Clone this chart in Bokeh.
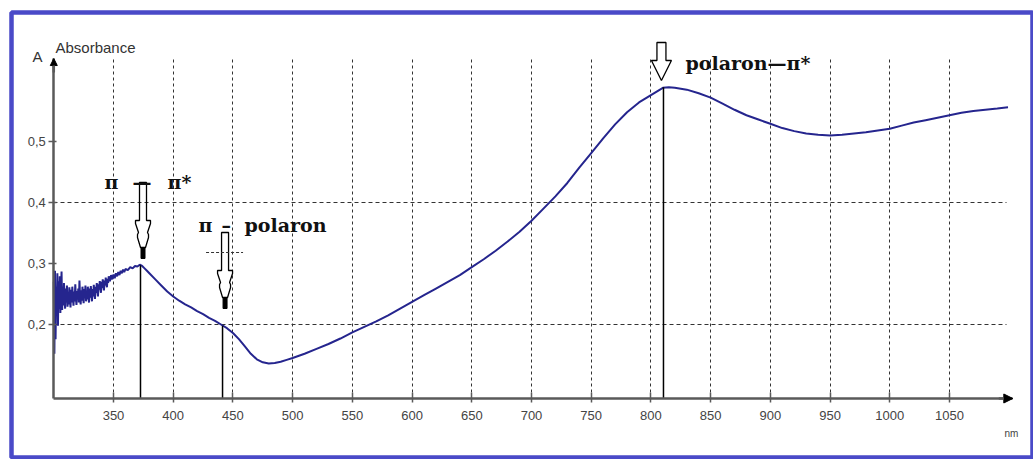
from bokeh.plotting import figure
from bokeh.models import Range1d, FixedTicker, Label, Arrow, NormalHead, Grid
from bokeh.core.properties import value
from bokeh.embed import file_html
from bokeh.resources import INLINE

# ---------------- data ----------------
wavelength = [300.0, 300.5, 301.0, 301.5, 302.0, 302.5, 303.0, 303.5, 304.0, 304.5,
              305.0, 305.5, 306.0, 306.5, 307.0, 307.5, 308.0, 308.5, 309.0, 309.5,
              310.0, 310.5, 311.0, 311.5, 312.0, 312.5, 313.0, 313.5, 314.0, 314.5,
              315.0, 315.5, 316.0, 316.5, 317.0, 317.5, 318.0, 318.5, 319.0, 319.5,
              320.0, 320.5, 321.0, 321.5, 322.0, 322.5, 323.0, 323.5, 324.0, 324.5,
              325.0, 325.5, 326.0, 326.5, 327.0, 327.5, 328.0, 328.5, 329.0, 329.5,
              330.0, 330.5, 331.0, 331.5, 332.0, 332.5, 333.0, 333.5, 334.0, 334.5,
              335.0, 335.5, 336.0, 336.5, 337.0, 337.5, 338.0, 338.5, 339.0, 339.5,
              340.0, 340.5, 341.0, 341.5, 342.0, 342.5, 343.0, 343.5, 344.0, 344.5,
              345.0, 345.5, 346.0, 347.0, 348.0, 349.0, 350.0, 351.0, 352.0, 353.0,
              354.0, 355.0, 356.0, 357.0, 358.0, 359.0, 360.0, 362.0, 364.0, 366.0,
              368.0, 370.0, 372.0, 374.0, 376.0, 378.0,
              380, 385, 390, 395, 400, 405, 410, 415, 420, 425,
              430, 435, 440, 445, 450, 455, 460, 465, 470, 475,
              480, 485, 490, 495, 500, 510, 520, 530, 540, 550,
              560, 570, 580, 590, 600, 610, 620, 630, 640, 650,
              660, 670, 680, 690, 700, 710, 720, 730, 740, 750,
              760, 770, 780, 790, 800, 810, 815, 820, 830, 840,
              850, 860, 870, 880, 890, 900, 910, 920, 930, 940,
              950, 960, 970, 980, 990, 1000, 1010, 1020, 1030, 1040,
              1050, 1060, 1070, 1080, 1090, 1099]
absorbance = [0.270, 0.152, 0.288, 0.176, 0.262, 0.214, 0.284, 0.198, 0.271, 0.226,
              0.279, 0.219, 0.252, 0.287, 0.224, 0.262, 0.231, 0.268, 0.241, 0.226,
              0.259, 0.236, 0.264, 0.229, 0.248, 0.233, 0.261, 0.242, 0.228, 0.257,
              0.236, 0.262, 0.245, 0.231, 0.254, 0.238, 0.266, 0.243, 0.232, 0.255,
              0.241, 0.259, 0.236, 0.272, 0.244, 0.233, 0.256, 0.239, 0.262, 0.246,
              0.235, 0.258, 0.243, 0.264, 0.238, 0.252, 0.241, 0.262, 0.247, 0.236,
              0.259, 0.244, 0.263, 0.249, 0.238, 0.258, 0.246, 0.265, 0.251, 0.242,
              0.262, 0.252, 0.268, 0.255, 0.246, 0.266, 0.257, 0.271, 0.259, 0.252,
              0.270, 0.260, 0.274, 0.262, 0.256, 0.272, 0.264, 0.277, 0.266, 0.261,
              0.275, 0.268, 0.279, 0.271, 0.281, 0.274, 0.282, 0.276, 0.284, 0.279,
              0.286, 0.281, 0.288, 0.284, 0.290, 0.286, 0.291, 0.289, 0.294, 0.292,
              0.296, 0.295, 0.298, 0.296, 0.292, 0.288,
              0.284, 0.274, 0.264, 0.254, 0.246, 0.239, 0.233, 0.228, 0.222, 0.217,
              0.211, 0.206, 0.200, 0.194, 0.186, 0.176, 0.164, 0.152, 0.143, 0.138,
              0.136, 0.137, 0.139, 0.142, 0.145, 0.152, 0.160, 0.168, 0.177, 0.187,
              0.196, 0.205, 0.215, 0.226, 0.237, 0.248, 0.259, 0.270, 0.281, 0.294,
              0.307, 0.321, 0.336, 0.352, 0.370, 0.390, 0.410, 0.432, 0.457, 0.481,
              0.505, 0.528, 0.548, 0.564, 0.576, 0.588, 0.589, 0.588, 0.585, 0.579,
              0.572, 0.562, 0.552, 0.543, 0.536, 0.529, 0.522, 0.517, 0.513, 0.511,
              0.510, 0.511, 0.513, 0.515, 0.518, 0.521, 0.526, 0.531, 0.535, 0.539,
              0.543, 0.547, 0.550, 0.552, 0.554, 0.556]

x_ticks = [350, 400, 450, 500, 550, 600, 650, 700, 750, 800, 850, 900, 950, 1000, 1050]
x_tick_labels = ["350", "400", "450", "500", "550", "600", "650", "700", "750",
                 "800", "850", "900", "950", "1000", "1050"]
y_ticks = [0.2, 0.3, 0.4, 0.5]
y_tick_labels = ["0,2", "0,3", "0,4", "0,5"]
y_grid_values = [0.2, 0.4]

# annotated transitions: drop line position (nm) and curve value
mark_x = [372.6, 441.3, 810.5]
mark_top = [0.297, 0.198, 0.589]

# hollow arrows: centre (nm), top of arrow (absorbance)
stepped_arrow_x = [374.7, 443.4]
stepped_arrow_top = [0.4328, 0.3508]
simple_arrow_x = [808.8]
simple_arrow_top = [0.6623]

# bold serif labels: (x nm, baseline absorbance, text)
label_x = [342.5, 365.9, 395.2, 421.2, 440.5, 459.7, 829.0]
label_y = [0.4328, 0.4328, 0.4328, 0.3639, 0.3639, 0.3639, 0.6279]
label_text = ["π", "—", "π*", "π", "–", "polaron", "polaron—π*"]

# ---------------- geometry ----------------
X_AXIS_START, X_AXIS_END = 300.0, 1103.0     # x axis line extent (nm)
Y_AXIS_START, Y_AXIS_END = 0.0787, 0.636     # y axis line extent (absorbance)
X_LO, X_HI = 264.59, 1120.33                 # visible range (whole framed box)
Y_LO, Y_HI = -0.01803, 0.71148
W, H = 1033, 459
B_LEFT, B_RIGHT, B_TOP, B_BOTTOM = 11, 0, 12, 2
SX = (W - B_LEFT - B_RIGHT) / (X_HI - X_LO)   # px per nm
SY = (H - B_TOP - B_BOTTOM) / (Y_HI - Y_LO)   # px per absorbance unit

p = figure(width=W, height=H, output_backend="svg", toolbar_location=None,
           x_range=Range1d(X_LO, X_HI), y_range=Range1d(Y_LO, Y_HI),
           min_border_left=B_LEFT, min_border_right=B_RIGHT,
           min_border_top=B_TOP, min_border_bottom=B_BOTTOM,
           background_fill_color="white", border_fill_color="white")
p.outline_line_color = "#4a4ac8"
p.outline_line_width = 4.5

AXIS_COL = "#5a5a5a"

# axes drawn at fixed data positions
p.xaxis.fixed_location = Y_AXIS_START
p.yaxis.fixed_location = X_AXIS_START
p.xaxis.bounds = (X_AXIS_START, X_AXIS_END)
p.yaxis.bounds = (Y_AXIS_START, Y_AXIS_END)
p.xaxis.ticker = FixedTicker(ticks=x_ticks)
p.xaxis.major_label_overrides = {t: l for t, l in zip(x_ticks, x_tick_labels)}
p.yaxis.ticker = FixedTicker(ticks=y_ticks)
p.yaxis.major_label_overrides = {t: l for t, l in zip(y_ticks, y_tick_labels)}
for ax in (p.xaxis, p.yaxis):
    ax.axis_line_color = AXIS_COL
    ax.axis_line_width = 2.5
    ax.major_tick_line_color = AXIS_COL
    ax.major_tick_line_width = 1.5
    ax.minor_tick_line_color = None
    ax.major_label_text_font = "Liberation Sans"
    ax.major_label_text_font_size = "13px"
    ax.major_label_text_color = "#444444"
p.xaxis.major_tick_in = 6
p.xaxis.major_tick_out = 4
p.xaxis.major_label_standoff = 9
p.yaxis.major_tick_in = 3
p.yaxis.major_tick_out = 5
p.yaxis.major_label_standoff = 3

# grids
p.xgrid.ticker = FixedTicker(ticks=x_ticks)
p.ygrid.ticker = FixedTicker(ticks=y_grid_values)
p.xgrid.grid_line_color = "#333333"
p.ygrid.grid_line_color = "#333333"
p.xgrid.grid_line_dash = "3 3"
p.ygrid.grid_line_dash = "4 3"
p.xgrid.grid_line_width = 1
p.ygrid.grid_line_width = 1
if "cross_bounds" in Grid.properties():
    p.xgrid.cross_bounds = (Y_AXIS_START, Y_AXIS_END)
    p.ygrid.cross_bounds = (X_AXIS_START, 1098.0)
else:
    p.xgrid.grid_line_color = None
    p.ygrid.grid_line_color = None
    p.segment(x0=x_ticks, y0=[Y_AXIS_START] * len(x_ticks), x1=x_ticks,
              y1=[Y_AXIS_END] * len(x_ticks),
              line_color="#333333", line_dash="3 3", line_width=1)
    p.segment(x0=[X_AXIS_START] * len(y_grid_values), y0=y_grid_values,
              x1=[1098.0] * len(y_grid_values), y1=y_grid_values,
              line_color="#333333", line_dash="4 3", line_width=1)

# axis arrow heads
p.add_layout(Arrow(end=NormalHead(size=9, fill_color="black", line_color="black"),
                   x_start=X_AXIS_END - 14 / SX, y_start=Y_AXIS_START,
                   x_end=X_AXIS_END, y_end=Y_AXIS_START,
                   line_color=AXIS_COL, line_width=2.5))
p.add_layout(Arrow(end=NormalHead(size=7, fill_color="black", line_color="black"),
                   x_start=X_AXIS_START, y_start=Y_AXIS_END - 14 / SY,
                   x_end=X_AXIS_START, y_end=Y_AXIS_END,
                   line_color=AXIS_COL, line_width=2.5))

# curve
p.line(wavelength, absorbance, line_color="#25258e", line_width=2)

# drop lines
p.segment(x0=mark_x, y0=mark_top, x1=mark_x, y1=[Y_AXIS_START] * len(mark_x),
          line_color="black", line_width=1.5)

# hollow stepped arrows (shape in px offsets: half-width, depth below top)
stepped_shape = [(-3.5, 0), (3.5, 0), (3.5, 38), (7.5, 38), (7.5, 41), (4.5, 50), (5.5, 52),
                 (5.5, 55), (2.5, 65), (-2.5, 65), (-5.5, 55), (-5.5, 52), (-4.5, 50),
                 (-7.5, 41), (-7.5, 38), (-3.5, 38)]
xs, ys = [], []
for cx, top in zip(stepped_arrow_x, stepped_arrow_top):
    xs.append([cx + dx / SX for dx, dy in stepped_shape])
    ys.append([top - dy / SY for dx, dy in stepped_shape])
simple_shape = [(-4.5, 0), (4.5, 0), (4.5, 18), (10, 18), (0, 38), (-10, 18), (-4.5, 18)]
for cx, top in zip(simple_arrow_x, simple_arrow_top):
    xs.append([cx + dx / SX for dx, dy in simple_shape])
    ys.append([top - dy / SY for dx, dy in simple_shape])
p.patches(xs, ys, fill_color=None, line_color="black", line_width=1.3)

# black stubs under stepped arrows
p.quad(left=[cx - 2 / SX for cx in stepped_arrow_x], right=[cx + 2 / SX for cx in stepped_arrow_x],
       top=[t - 65 / SY for t in stepped_arrow_top], bottom=[t - 76 / SY for t in stepped_arrow_top],
       fill_color="black", line_color="black")

# small dashed cross line on second arrow
p.segment(x0=[stepped_arrow_x[1] - 19 / SX], y0=[stepped_arrow_top[1] - 20 / SY],
          x1=[stepped_arrow_x[1] + 18 / SX], y1=[stepped_arrow_top[1] - 20 / SY],
          line_color="#333333", line_dash="3 2", line_width=1)

# bold serif labels
p.text(x=label_x, y=label_y, text=label_text, text_font=value("DejaVu Serif"),
       text_font_style="bold", text_font_size="19px", text_align="left",
       text_baseline="alphabetic", text_color="#111111")

# axis titles
p.add_layout(Label(x=301.4, y=0.654, text="Absorbance", text_font="Liberation Sans",
                   text_font_size="15px", text_color="#333333", text_baseline="alphabetic"))
p.add_layout(Label(x=286.4, y=0.6393, text="A", text_font="Liberation Sans",
                   text_font_size="15px", text_color="#333333", text_align="center",
                   text_baseline="middle"))
p.add_layout(Label(x=1101.9, y=0.0213, text="nm", text_font="Liberation Sans",
                   text_font_size="10px", text_color="#444444", text_align="center",
                   text_baseline="middle"))

open("out.html", "w").write(file_html(p, INLINE))
